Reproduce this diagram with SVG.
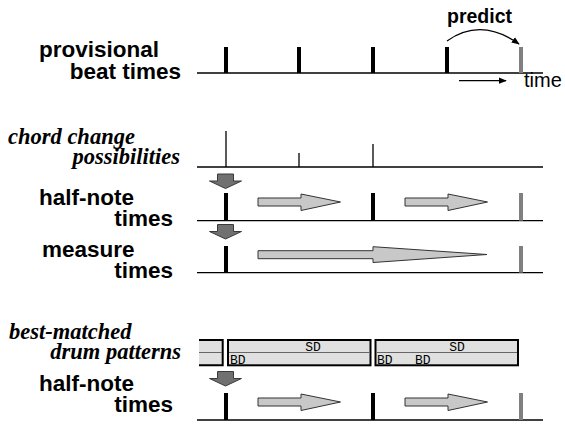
<svg xmlns="http://www.w3.org/2000/svg" width="565" height="425" viewBox="0 0 565 425">
<style>
.lbl{font-family:"Liberation Sans",Arial,sans-serif;font-weight:bold;font-size:22.5px;fill:#000}
.pred{font-family:"Liberation Sans",Arial,sans-serif;font-weight:bold;font-size:19.5px;fill:#000}
.it{font-family:"Liberation Serif","Times New Roman",serif;font-weight:bold;font-style:italic;font-size:22.5px;fill:#000}
.mono{font-family:"Liberation Mono","Courier New",monospace;font-size:13px;fill:#000}
.base{stroke:#000;stroke-width:1.3;fill:none}
.tk{stroke:#000;stroke-width:4}
.tg{stroke:#808080;stroke-width:4}
.tt{stroke:#000;stroke-width:1.3}
.down{fill:#707070;stroke:#3a3a3a;stroke-width:1}
.right{fill:#c8c8c8;stroke:#333;stroke-width:1}
.box{fill:#e0e0e0;stroke:#000;stroke-width:2}
.div{stroke:#666;stroke-width:1}
</style>
<defs>
<marker id="ah" viewBox="0 0 10 10" refX="9" refY="5" markerWidth="8" markerHeight="8" markerUnits="userSpaceOnUse" orient="auto">
<path d="M0,1 L10,5 L0,9 Z" fill="#000"/>
</marker>
<path id="dn" d="M-8,0 H8 V7 H16 L0,14.5 L-16,7 H-8 Z"/>
</defs>

<g id="row-provisional">
<text class="lbl" x="39" y="57">provisional</text>
<text class="lbl" x="181" y="79" text-anchor="end">beat times</text>
<line class="base" x1="197" y1="73" x2="543" y2="73"/>
<line class="tk" x1="226" y1="47" x2="226" y2="73"/>
<line class="tk" x1="299" y1="47" x2="299" y2="73"/>
<line class="tk" x1="373" y1="47" x2="373" y2="73"/>
<line class="tk" x1="447" y1="47" x2="447" y2="73"/>
<line class="tg" x1="521" y1="47" x2="521" y2="73"/>
</g>

<g id="predict">
<text class="pred" x="447" y="23">predict</text>
</g>

<g id="time-axis">
<text x="524" y="87" font-family="Liberation Sans, Arial, sans-serif" font-size="20">time</text>
</g>

<g id="row-chord">
<text class="it" x="8" y="143.5">chord change</text>
<text class="it" x="180" y="164" text-anchor="end">possibilities</text>
<line class="base" x1="197" y1="167" x2="543" y2="167"/>
<line class="tt" x1="226" y1="131" x2="226" y2="167"/>
<line class="tt" x1="299" y1="153" x2="299" y2="167"/>
<line class="tt" x1="373" y1="144" x2="373" y2="167"/>
</g>

<g id="row-halfnote1">
<text class="lbl" x="39" y="205">half-note</text>
<text class="lbl" x="173" y="226" text-anchor="end">times</text>
<line class="base" x1="197" y1="220.7" x2="543" y2="220.7"/>
<line class="tk" x1="226" y1="193" x2="226" y2="220.7"/>
<line class="tk" x1="373" y1="193" x2="373" y2="220.7"/>
<line class="tg" x1="521" y1="193" x2="521" y2="220.7"/>
</g>

<g id="row-measure">
<text class="lbl" x="42" y="257">measure</text>
<text class="lbl" x="173" y="278" text-anchor="end">times</text>
<line class="base" x1="197" y1="272.7" x2="543" y2="272.7"/>
<line class="tk" x1="226" y1="246" x2="226" y2="272.7"/>
<line class="tg" x1="521" y1="246" x2="521" y2="272.7"/>
</g>

<g id="row-drums">
<text class="it" x="9" y="338.5">best-matched</text>
<text class="it" x="181" y="359" text-anchor="end">drum patterns</text>
<path d="M199,340 H222.7 V365.3 H199 Z" fill="#e0e0e0"/>
<path d="M199,340 H222.7 V365.3 H199" fill="none" stroke="#000" stroke-width="2"/>
<line class="div" x1="199" y1="352.5" x2="222" y2="352.5"/>
<rect class="box" x="228" y="340" width="142.5" height="25.3"/>
<line class="div" x1="229" y1="352.5" x2="369.5" y2="352.5"/>
<text class="mono" x="313" y="350.5" text-anchor="middle">SD</text>
<text class="mono" x="230" y="363.5">BD</text>
<rect class="box" x="375.5" y="340" width="142.5" height="25.3"/>
<line class="div" x1="376.5" y1="352.5" x2="517" y2="352.5"/>
<text class="mono" x="457" y="350.5" text-anchor="middle">SD</text>
<text class="mono" x="377" y="363.5">BD</text>
<text class="mono" x="415" y="363.5">BD</text>
</g>

<g id="row-halfnote2">
<text class="lbl" x="39" y="391">half-note</text>
<text class="lbl" x="173" y="412" text-anchor="end">times</text>
<line class="base" x1="197" y1="420" x2="543" y2="420"/>
<line class="tk" x1="226" y1="393" x2="226" y2="420"/>
<line class="tk" x1="373" y1="393" x2="373" y2="420"/>
<line class="tg" x1="521" y1="393" x2="521" y2="420"/>
</g>

<g id="connectors">
<path d="M447,41 Q481,17 519,44" fill="none" stroke="#000" stroke-width="1.2" marker-end="url(#ah)"/>
<line x1="459" y1="80.7" x2="506" y2="80.7" stroke="#000" stroke-width="1.2" marker-end="url(#ah)"/>
<use href="#dn" class="down" x="225.5" y="174"/>
<use href="#dn" class="down" x="225.5" y="224.5"/>
<use href="#dn" class="down" x="225.5" y="371.5"/>
<path class="right" d="M258,198 H301 V194 L340.5,202 L301,210.5 V206 H258 Z"/>
<path class="right" d="M405,198 H448 V194 L487.5,202 L448,210.5 V206 H405 Z"/>
<path class="right" d="M258,250.7 H373 V246.7 L487,254.5 L373,262.5 V258.7 H258 Z"/>
<path class="right" d="M258,398 H301 V394 L340.5,402 L301,410.5 V406 H258 Z"/>
<path class="right" d="M405,398 H448 V394 L487.5,402 L448,410.5 V406 H405 Z"/>
</g>
</svg>
